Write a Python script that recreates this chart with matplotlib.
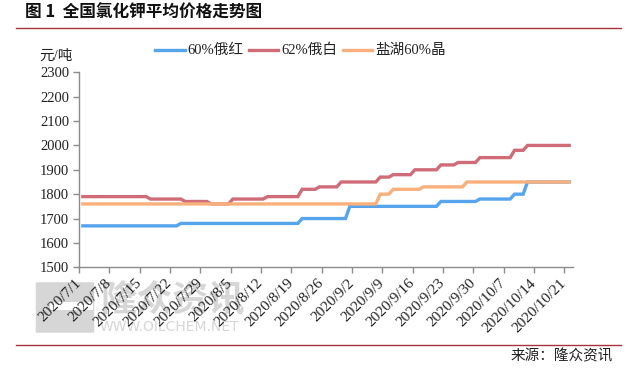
import matplotlib
matplotlib.use('Agg')
import matplotlib.pyplot as plt
import matplotlib.dates as mdates
from matplotlib.lines import Line2D
from matplotlib.patches import FancyBboxPatch, Rectangle
import pandas as pd

plt.rcParams['font.family'] = ['Liberation Serif', 'Noto Sans CJK SC']

# ---------------- data (vertices of each price line) ----------------
series_names = ['60%俄红', '62%俄白', '盐湖60%晶']

blue_dates = ['2020-07-01', '2020-07-23', '2020-07-24', '2020-08-20', '2020-08-21',
              '2020-08-31', '2020-09-01', '2020-09-21', '2020-09-22', '2020-09-30',
              '2020-10-01', '2020-10-08', '2020-10-09', '2020-10-11', '2020-10-12',
              '2020-10-22']
blue_vals = [1670, 1670, 1680, 1680, 1700, 1700, 1750, 1750, 1770, 1770,
             1780, 1780, 1800, 1800, 1850, 1850]

red_dates = ['2020-07-01', '2020-07-16', '2020-07-17', '2020-07-24', '2020-07-25',
             '2020-07-30', '2020-07-31', '2020-08-04', '2020-08-05', '2020-08-12',
             '2020-08-13', '2020-08-20', '2020-08-21', '2020-08-24', '2020-08-25',
             '2020-08-29', '2020-08-30', '2020-09-07', '2020-09-08', '2020-09-10',
             '2020-09-11', '2020-09-15', '2020-09-16', '2020-09-21', '2020-09-22',
             '2020-09-25', '2020-09-26', '2020-09-30', '2020-10-01', '2020-10-08',
             '2020-10-09', '2020-10-11', '2020-10-12', '2020-10-22']
red_vals = [1790, 1790, 1780, 1780, 1770, 1770, 1760, 1760, 1780, 1780,
            1790, 1790, 1820, 1820, 1830, 1830, 1850, 1850, 1870, 1870,
            1880, 1880, 1900, 1900, 1920, 1920, 1930, 1930, 1950, 1950,
            1980, 1980, 2000, 2000]

orange_dates = ['2020-07-01', '2020-09-07', '2020-09-08', '2020-09-10', '2020-09-11',
                '2020-09-17', '2020-09-18', '2020-09-27', '2020-09-28', '2020-10-22']
orange_vals = [1760, 1760, 1800, 1800, 1820, 1820, 1830, 1830, 1850, 1850]

tick_dates = ['2020-07-01', '2020-07-08', '2020-07-15', '2020-07-22', '2020-07-29',
              '2020-08-05', '2020-08-12', '2020-08-19', '2020-08-26', '2020-09-02',
              '2020-09-09', '2020-09-16', '2020-09-23', '2020-09-30', '2020-10-07',
              '2020-10-14', '2020-10-21']
y_ticks = [1500, 1600, 1700, 1800, 1900, 2000, 2100, 2200, 2300]

# ---------------- figure ----------------
W, H = 630, 369
fig = plt.figure(figsize=(W / 100, H / 100), dpi=100)
fig.patch.set_facecolor('white')

def fx(px):
    return px / W

def fy(py):
    return 1 - py / H

ax = fig.add_axes([fx(79), fy(267.3), fx(573) - fx(79), fy(72.3) - fy(267.3)])

colors = ['#55a4ec', '#d06b78', '#f9b07c']
half_day = pd.Timedelta(hours=12)
for dts, vals, c in [(blue_dates, blue_vals, colors[0]),
                     (red_dates, red_vals, colors[1]),
                     (orange_dates, orange_vals, colors[2])]:
    x = pd.to_datetime(dts) + half_day
    ax.plot(x, vals, color=c, lw=2.4, solid_joinstyle='miter', solid_capstyle='butt')

start = mdates.date2num(pd.Timestamp('2020-07-01'))
ax.set_xlim(start, start + 114)
ax.set_ylim(1500, 2300)

tk = pd.to_datetime(tick_dates)
ax.set_xticks(mdates.date2num(tk))
ax.set_xticklabels([f'{d.year}/{d.month}/{d.day}' for d in tk],
                   rotation=45, ha='right', va='center', rotation_mode='anchor',
                   fontsize=11)
ax.set_yticks(y_ticks)
ax.set_yticklabels([str(v) for v in y_ticks], fontsize=10.5)

for s in ['top', 'right']:
    ax.spines[s].set_visible(False)
for s in ['left', 'bottom']:
    ax.spines[s].set_color('#8c8c8c')
    ax.spines[s].set_linewidth(1.0)
ax.tick_params(axis='both', colors='#8c8c8c', length=4, width=1, labelcolor='#222222')
ax.tick_params(axis='x', pad=6)
ax.tick_params(axis='y', pad=3)

# ---------------- watermark ----------------
wm = '#d6d6d6'
fig.patches.append(FancyBboxPatch((fx(37), fy(332)), fx(56), fy(283) - fy(332),
                                  boxstyle='round,pad=0.002', transform=fig.transFigure,
                                  facecolor=wm, edgecolor='none', zorder=-2))
fig.patches.append(Rectangle((fx(50), fy(310)), fx(43), fy(302) - fy(310),
                             transform=fig.transFigure, facecolor='white',
                             edgecolor='none', zorder=-1))
fig.text(fx(100), fy(301), '隆众资讯', fontsize=26, color=wm, va='center', ha='left',
         family=['Noto Sans CJK SC'], fontweight='bold', zorder=-1)
fig.text(fx(100), fy(327), 'WWW.OILCHEM.NET', fontsize=10, color=wm, va='center',
         ha='left', family=['DejaVu Sans'], zorder=-1)

# ---------------- title, rules, source ----------------
fig.text(fx(25), fy(13), '图 1  全国氯化钾平均价格走势图', fontsize=12, fontweight='bold',
         family=['Noto Sans CJK SC'], va='center', ha='left', color='#111111')
rule_c = '#a8333d'
fig.add_artist(Line2D([fx(16), fx(621)], [fy(28.3), fy(28.3)], color=rule_c, lw=1.0,
                      transform=fig.transFigure))
fig.add_artist(Line2D([fx(16), fx(621)], [fy(345), fy(345)], color=rule_c, lw=1.0,
                      transform=fig.transFigure))
fig.text(fx(613), fy(356), '来源：隆众资讯', fontsize=10.5, va='center', ha='right',
         family=['Noto Sans CJK SC'], color='#222222')
fig.text(fx(39), fy(56.5), '元/吨', fontsize=10.5, va='center', ha='left', color='#222222')

# ---------------- legend ----------------
leg_items = [(155, 185, 187), (249, 278, 281), (343, 372, 375)]
for (x0, x1, xt), c, name in zip(leg_items, colors, series_names):
    fig.add_artist(Line2D([fx(x0), fx(x1)], [fy(50), fy(50)], color=c, lw=2.4,
                          transform=fig.transFigure))
    fig.text(fx(xt), fy(50), name, fontsize=10.5, va='center', ha='left', color='#222222')

fig.savefig('out.png', dpi=100, facecolor='white')
